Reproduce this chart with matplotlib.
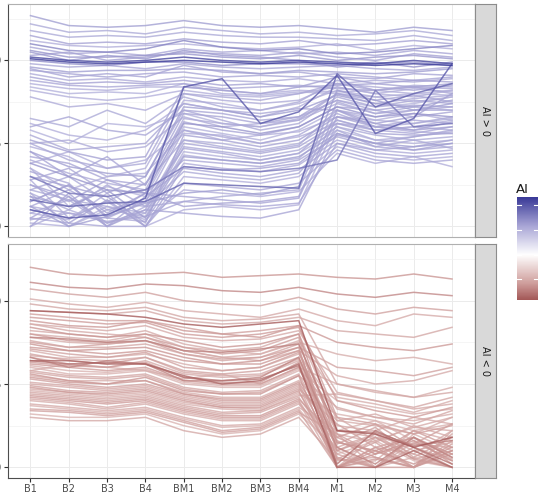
import numpy as np
import matplotlib.pyplot as plt
from matplotlib.colors import LinearSegmentedColormap, Normalize

# x categories
stages = ["B1", "B2", "B3", "B4", "BM1", "BM2", "BM3", "BM4", "M1", "M2", "M3", "M4"]

# AI > 0 panel: one AI value and one row of 12 values per line
top_ai = [0.62, 0.55, 0.60, 0.52, 0.58, 0.66, 1.10, 0.70, 0.56, 0.62,
          0.58, 0.54, 0.60, 0.57, 0.52, 0.64, 0.50, 0.75,
          0.55, 0.52, 0.58, 0.50,
          0.60, 0.56, 0.52, 0.62, 0.58, 0.54, 0.66, 0.50, 0.57, 0.60,
          0.53, 0.59, 0.55, 0.51, 0.62, 0.56, 0.54, 0.58, 0.52, 0.57,
          0.55, 0.60, 0.52, 0.58,
          1.00, 0.95, 0.85, 1.17,
          0.55, 0.60, 0.58, 0.52, 0.54, 0.56, 0.58, 0.52, 0.55, 0.57,
          0.53, 0.60, 0.55, 0.52, 0.58, 0.62, 0.54, 0.56, 0.52, 0.57]
top_rows = [
    [1.27, 1.21, 1.20, 1.21, 1.24, 1.21, 1.20, 1.21, 1.19, 1.17, 1.20, 1.18],
    [1.18, 1.14, 1.15, 1.14, 1.17, 1.15, 1.14, 1.14, 1.13, 1.12, 1.15, 1.12],
    [1.15, 1.10, 1.11, 1.10, 1.13, 1.11, 1.10, 1.12, 1.09, 1.10, 1.12, 1.10],
    [1.12, 1.09, 1.08, 1.09, 1.10, 1.08, 1.07, 1.08, 1.10, 1.06, 1.09, 1.07],
    [1.08, 1.04, 1.05, 1.03, 1.07, 1.05, 1.06, 1.04, 1.05, 1.03, 1.06, 1.04],
    [1.06, 1.02, 1.02, 1.03, 1.04, 1.02, 1.01, 1.03, 1.00, 1.02, 1.03, 1.01],
    [1.02, 1.00, 0.99, 1.00, 1.02, 1.00, 0.99, 1.00, 0.99, 0.98, 1.00, 0.98],
    [1.00, 0.98, 0.97, 0.99, 0.99, 0.97, 0.98, 0.98, 0.97, 0.99, 0.96, 0.99],
    [0.98, 0.96, 0.97, 0.95, 0.98, 0.96, 0.95, 0.96, 0.97, 0.95, 0.94, 0.96],
    [0.96, 0.93, 0.94, 0.94, 0.95, 0.94, 0.92, 0.94, 0.93, 0.92, 0.93, 0.95],
    [0.94, 0.92, 0.90, 0.92, 0.93, 0.90, 0.91, 0.90, 0.92, 0.90, 0.88, 0.90],
    [0.92, 0.88, 0.89, 0.87, 0.90, 0.88, 0.87, 0.89, 0.86, 0.88, 0.87, 0.89],
    [0.90, 0.86, 0.87, 0.86, 0.88, 0.85, 0.86, 0.84, 0.85, 0.86, 0.84, 0.86],
    [0.88, 0.85, 0.84, 0.85, 0.86, 0.83, 0.84, 0.85, 0.83, 0.82, 0.84, 0.83],
    [0.86, 0.83, 0.82, 0.84, 0.84, 0.82, 0.80, 0.82, 0.81, 0.82, 0.80, 0.82],
    [1.05, 1.00, 1.03, 1.01, 1.06, 1.03, 1.02, 1.00, 0.96, 0.98, 0.99, 0.97],
    [0.84, 0.80, 0.81, 0.80, 0.86, 0.80, 0.79, 0.81, 0.80, 0.78, 0.80, 0.79],
    [1.10, 1.06, 1.05, 1.07, 1.12, 1.08, 1.06, 1.07, 1.04, 1.05, 1.07, 1.09],
    [0.65, 0.60, 0.70, 0.62, 0.78, 0.72, 0.70, 0.75, 0.88, 0.82, 0.85, 0.84],
    [0.62, 0.55, 0.52, 0.58, 0.74, 0.70, 0.66, 0.72, 0.84, 0.80, 0.78, 0.82],
    [0.60, 0.66, 0.58, 0.55, 0.70, 0.68, 0.64, 0.66, 0.80, 0.76, 0.79, 0.75],
    [0.58, 0.50, 0.62, 0.60, 0.68, 0.62, 0.60, 0.65, 0.76, 0.72, 0.74, 0.78],
    [0.52, 0.45, 0.40, 0.42, 0.84, 0.82, 0.80, 0.84, 0.90, 0.86, 0.88, 0.87],
    [0.50, 0.40, 0.35, 0.38, 0.80, 0.78, 0.76, 0.80, 0.86, 0.82, 0.84, 0.80],
    [0.48, 0.42, 0.30, 0.35, 0.76, 0.74, 0.70, 0.74, 0.82, 0.78, 0.75, 0.78],
    [0.45, 0.36, 0.32, 0.30, 0.72, 0.70, 0.66, 0.70, 0.79, 0.74, 0.72, 0.76],
    [0.42, 0.38, 0.28, 0.25, 0.68, 0.66, 0.62, 0.66, 0.76, 0.70, 0.73, 0.72],
    [0.40, 0.32, 0.26, 0.22, 0.65, 0.62, 0.60, 0.64, 0.74, 0.68, 0.70, 0.70],
    [0.38, 0.30, 0.22, 0.20, 0.62, 0.60, 0.56, 0.60, 0.72, 0.66, 0.68, 0.66],
    [0.35, 0.12, 0.24, 0.18, 0.60, 0.56, 0.52, 0.58, 0.70, 0.64, 0.62, 0.65],
    [0.33, 0.26, 0.05, 0.15, 0.58, 0.54, 0.50, 0.55, 0.68, 0.60, 0.64, 0.62],
    [0.30, 0.24, 0.18, 0.02, 0.55, 0.52, 0.48, 0.52, 0.66, 0.62, 0.58, 0.60],
    [0.28, 0.05, 0.15, 0.12, 0.52, 0.50, 0.46, 0.50, 0.64, 0.58, 0.60, 0.58],
    [0.25, 0.18, 0.00, 0.10, 0.50, 0.47, 0.44, 0.48, 0.62, 0.56, 0.55, 0.56],
    [0.22, 0.16, 0.12, 0.08, 0.48, 0.45, 0.42, 0.46, 0.60, 0.55, 0.52, 0.54],
    [0.20, 0.00, 0.10, 0.06, 0.45, 0.42, 0.40, 0.44, 0.58, 0.52, 0.50, 0.52],
    [0.18, 0.12, 0.22, 0.05, 0.42, 0.40, 0.38, 0.42, 0.56, 0.50, 0.48, 0.50],
    [0.15, 0.25, 0.06, 0.20, 0.40, 0.38, 0.36, 0.40, 0.54, 0.48, 0.46, 0.48],
    [0.12, 0.08, 0.05, 0.03, 0.38, 0.35, 0.33, 0.37, 0.52, 0.46, 0.44, 0.46],
    [0.00, 0.20, 0.00, 0.18, 0.35, 0.32, 0.30, 0.34, 0.50, 0.44, 0.42, 0.44],
    [0.08, 0.04, 0.20, 0.00, 0.30, 0.28, 0.26, 0.30, 0.48, 0.42, 0.40, 0.42],
    [0.05, 0.02, 0.00, 0.00, 0.26, 0.24, 0.22, 0.26, 0.46, 0.40, 0.38, 0.40],
    [0.20, 0.10, 0.25, 0.12, 0.15, 0.18, 0.20, 0.22, 0.75, 0.68, 0.72, 0.70],
    [0.15, 0.25, 0.08, 0.20, 0.12, 0.14, 0.15, 0.18, 0.70, 0.62, 0.66, 0.80],
    [0.10, 0.05, 0.15, 0.00, 0.10, 0.12, 0.10, 0.13, 0.62, 0.58, 0.60, 0.64],
    [0.05, 0.18, 0.02, 0.10, 0.08, 0.06, 0.05, 0.10, 0.56, 0.50, 0.54, 0.58],
    [0.10, 0.05, 0.07, 0.17, 0.84, 0.89, 0.62, 0.69, 0.91, 0.56, 0.65, 0.98],
    [0.16, 0.12, 0.14, 0.15, 0.26, 0.25, 0.24, 0.23, 0.92, 0.72, 0.80, 0.86],
    [0.30, 0.20, 0.18, 0.22, 0.36, 0.34, 0.33, 0.35, 0.40, 0.82, 0.60, 0.62],
    [1.01, 0.99, 0.98, 0.99, 1.00, 0.99, 0.98, 0.99, 0.98, 0.97, 0.98, 0.97],
    [1.22, 1.17, 1.18, 1.16, 1.20, 1.18, 1.16, 1.17, 1.15, 1.16, 1.18, 1.15],
    [1.03, 1.05, 1.00, 1.02, 1.05, 1.04, 1.03, 1.05, 1.02, 1.00, 1.04, 1.02],
    [0.95, 0.90, 0.92, 0.90, 0.97, 0.93, 0.92, 0.93, 0.90, 0.89, 0.92, 0.91],
    [0.82, 0.78, 0.76, 0.78, 0.82, 0.79, 0.78, 0.80, 0.84, 0.80, 0.83, 0.81],
    [0.78, 0.72, 0.74, 0.70, 0.80, 0.76, 0.74, 0.76, 0.86, 0.84, 0.82, 0.85],
    [0.28, 0.35, 0.20, 0.30, 0.70, 0.64, 0.58, 0.62, 0.78, 0.72, 0.76, 0.74],
    [0.45, 0.30, 0.42, 0.25, 0.63, 0.58, 0.55, 0.60, 0.72, 0.70, 0.66, 0.69],
    [0.38, 0.45, 0.35, 0.40, 0.58, 0.52, 0.55, 0.57, 0.66, 0.64, 0.68, 0.64],
    [0.22, 0.30, 0.15, 0.26, 0.52, 0.48, 0.45, 0.49, 0.70, 0.60, 0.62, 0.66],
    [0.12, 0.22, 0.10, 0.15, 0.47, 0.44, 0.40, 0.44, 0.64, 0.58, 0.56, 0.60],
    [0.00, 0.10, 0.02, 0.08, 0.43, 0.40, 0.38, 0.41, 0.60, 0.52, 0.54, 0.57],
    [0.18, 0.02, 0.16, 0.00, 0.36, 0.34, 0.35, 0.38, 0.55, 0.50, 0.46, 0.50],
    [0.08, 0.16, 0.00, 0.12, 0.33, 0.30, 0.28, 0.32, 0.58, 0.48, 0.52, 0.47],
    [0.02, 0.00, 0.12, 0.04, 0.22, 0.20, 0.18, 0.21, 0.44, 0.38, 0.42, 0.36],
    [0.25, 0.15, 0.28, 0.20, 0.18, 0.16, 0.14, 0.17, 0.66, 0.60, 0.58, 0.63],
    [0.12, 0.00, 0.06, 0.14, 0.20, 0.22, 0.19, 0.24, 0.82, 0.76, 0.70, 0.74],
    [0.50, 0.52, 0.45, 0.48, 0.66, 0.60, 0.62, 0.64, 0.80, 0.74, 0.77, 0.79],
    [0.55, 0.46, 0.48, 0.50, 0.74, 0.70, 0.68, 0.71, 0.70, 0.66, 0.70, 0.72],
    [0.35, 0.22, 0.30, 0.32, 0.56, 0.55, 0.50, 0.54, 0.62, 0.60, 0.57, 0.56],
    [0.04, 0.08, 0.03, 0.06, 0.15, 0.13, 0.12, 0.14, 0.50, 0.46, 0.48, 0.52],
]

# AI < 0 panel
bot_ai = [-0.62, -0.68, -0.55, -0.50, -0.52, -0.60, -0.48, -0.55,
          -0.90, -0.56, -0.50, -0.62, -0.58, -0.52, -0.60, -0.48,
          -0.55, -0.50, -0.85, -0.58, -0.45, -0.52, -0.62, -0.48,
          -0.55, -0.50, -0.60, -0.45, -0.52, -0.58, -0.48, -0.50,
          -0.55, -0.45, -0.52, -0.48, -0.72, -0.78, -0.70,
          -0.52, -0.58, -0.50, -0.48, -0.62, -0.55, -0.50, -0.58, -0.45, -0.52,
          -0.60, -0.50, -0.55, -0.48, -0.52, -0.58, -0.50, -0.45, -0.55, -0.50]
bot_rows = [
    [1.20, 1.16, 1.15, 1.16, 1.17, 1.14, 1.15, 1.16, 1.14, 1.13, 1.16, 1.13],
    [1.11, 1.08, 1.07, 1.10, 1.09, 1.06, 1.05, 1.08, 1.04, 1.02, 1.05, 1.03],
    [1.07, 1.04, 1.02, 1.05, 1.00, 0.98, 0.97, 1.02, 0.95, 0.92, 0.96, 0.94],
    [1.01, 0.98, 0.96, 0.99, 0.94, 0.92, 0.90, 0.95, 0.88, 0.85, 0.92, 0.90],
    [0.94, 0.93, 0.92, 0.94, 0.88, 0.86, 0.87, 0.90, 0.82, 0.80, 0.78, 0.84],
    [0.88, 0.85, 0.84, 0.88, 0.82, 0.80, 0.78, 0.85, 0.75, 0.72, 0.70, 0.74],
    [0.80, 0.78, 0.76, 0.80, 0.72, 0.70, 0.68, 0.75, 0.68, 0.64, 0.66, 0.62],
    [0.75, 0.72, 0.74, 0.76, 0.68, 0.65, 0.66, 0.72, 0.60, 0.58, 0.55, 0.60],
    [0.94, 0.93, 0.92, 0.90, 0.86, 0.84, 0.86, 0.88, 0.22, 0.20, 0.12, 0.18],
    [0.92, 0.90, 0.88, 0.88, 0.84, 0.80, 0.82, 0.85, 0.30, 0.26, 0.20, 0.25],
    [0.86, 0.84, 0.82, 0.85, 0.78, 0.76, 0.77, 0.82, 0.45, 0.40, 0.35, 0.38],
    [0.84, 0.80, 0.78, 0.80, 0.76, 0.72, 0.74, 0.80, 0.15, 0.10, 0.18, 0.08],
    [0.80, 0.76, 0.75, 0.78, 0.72, 0.68, 0.70, 0.78, 0.00, 0.12, 0.00, 0.10],
    [0.76, 0.72, 0.72, 0.74, 0.68, 0.64, 0.66, 0.74, 0.20, 0.00, 0.15, 0.05],
    [0.72, 0.70, 0.68, 0.70, 0.64, 0.62, 0.62, 0.70, 0.10, 0.18, 0.05, 0.00],
    [0.70, 0.66, 0.66, 0.68, 0.62, 0.58, 0.60, 0.68, 0.35, 0.30, 0.28, 0.32],
    [0.68, 0.64, 0.62, 0.66, 0.58, 0.56, 0.58, 0.66, 0.05, 0.15, 0.00, 0.20],
    [0.66, 0.62, 0.60, 0.64, 0.56, 0.54, 0.55, 0.64, 0.25, 0.22, 0.30, 0.26],
    [0.64, 0.64, 0.62, 0.62, 0.55, 0.50, 0.52, 0.62, 0.00, 0.00, 0.10, 0.00],
    [0.62, 0.60, 0.58, 0.60, 0.52, 0.50, 0.50, 0.60, 0.18, 0.08, 0.22, 0.12],
    [0.60, 0.56, 0.56, 0.58, 0.50, 0.48, 0.48, 0.58, 0.40, 0.36, 0.32, 0.35],
    [0.58, 0.55, 0.54, 0.56, 0.48, 0.45, 0.46, 0.56, 0.12, 0.20, 0.10, 0.15],
    [0.56, 0.52, 0.50, 0.54, 0.46, 0.44, 0.44, 0.55, 0.00, 0.10, 0.02, 0.12],
    [0.55, 0.52, 0.52, 0.52, 0.45, 0.42, 0.42, 0.52, 0.28, 0.25, 0.20, 0.30],
    [0.53, 0.50, 0.48, 0.50, 0.44, 0.40, 0.40, 0.50, 0.08, 0.00, 0.12, 0.00],
    [0.50, 0.48, 0.46, 0.48, 0.42, 0.38, 0.38, 0.48, 0.20, 0.15, 0.25, 0.18],
    [0.48, 0.45, 0.44, 0.46, 0.40, 0.36, 0.36, 0.46, 0.00, 0.05, 0.00, 0.08],
    [0.46, 0.44, 0.42, 0.44, 0.38, 0.35, 0.34, 0.44, 0.32, 0.28, 0.22, 0.26],
    [0.44, 0.42, 0.40, 0.42, 0.36, 0.32, 0.33, 0.42, 0.10, 0.20, 0.05, 0.10],
    [0.42, 0.40, 0.38, 0.40, 0.34, 0.30, 0.30, 0.40, 0.05, 0.00, 0.18, 0.02],
    [0.40, 0.38, 0.35, 0.38, 0.32, 0.28, 0.28, 0.38, 0.15, 0.10, 0.00, 0.22],
    [0.38, 0.36, 0.34, 0.36, 0.30, 0.25, 0.26, 0.36, 0.22, 0.18, 0.14, 0.12],
    [0.35, 0.34, 0.32, 0.34, 0.28, 0.22, 0.24, 0.34, 0.00, 0.12, 0.08, 0.00],
    [0.32, 0.30, 0.30, 0.32, 0.25, 0.20, 0.22, 0.32, 0.12, 0.00, 0.20, 0.10],
    [0.30, 0.28, 0.28, 0.30, 0.22, 0.18, 0.20, 0.30, 0.04, 0.06, 0.00, 0.16],
    [0.58, 0.62, 0.60, 0.58, 0.53, 0.56, 0.50, 0.60, 0.50, 0.45, 0.42, 0.48],
    [0.78, 0.77, 0.75, 0.76, 0.70, 0.69, 0.71, 0.74, 0.22, 0.21, 0.13, 0.16],
    [0.64, 0.62, 0.63, 0.62, 0.54, 0.52, 0.53, 0.61, 0.02, 0.22, 0.12, 0.02],
    [0.66, 0.60, 0.64, 0.62, 0.52, 0.52, 0.54, 0.66, 0.12, 0.02, 0.18, 0.06],
    [0.98, 0.95, 0.94, 0.96, 0.90, 0.88, 0.89, 0.92, 0.50, 0.46, 0.42, 0.45],
    [0.90, 0.88, 0.86, 0.87, 0.80, 0.78, 0.80, 0.84, 0.40, 0.34, 0.30, 0.36],
    [0.82, 0.80, 0.78, 0.82, 0.74, 0.70, 0.72, 0.80, 0.28, 0.32, 0.24, 0.30],
    [0.78, 0.75, 0.74, 0.76, 0.70, 0.66, 0.68, 0.76, 0.42, 0.38, 0.33, 0.40],
    [0.74, 0.70, 0.71, 0.72, 0.66, 0.62, 0.64, 0.72, 0.00, 0.08, 0.16, 0.04],
    [0.71, 0.68, 0.66, 0.69, 0.60, 0.58, 0.60, 0.69, 0.14, 0.24, 0.06, 0.18],
    [0.67, 0.65, 0.64, 0.66, 0.57, 0.55, 0.56, 0.65, 0.30, 0.16, 0.24, 0.22],
    [0.63, 0.61, 0.60, 0.63, 0.54, 0.51, 0.51, 0.63, 0.06, 0.00, 0.00, 0.14],
    [0.61, 0.58, 0.57, 0.59, 0.51, 0.49, 0.49, 0.59, 0.22, 0.28, 0.16, 0.08],
    [0.57, 0.54, 0.53, 0.55, 0.47, 0.44, 0.45, 0.55, 0.36, 0.30, 0.26, 0.34],
    [0.54, 0.51, 0.50, 0.52, 0.44, 0.41, 0.41, 0.51, 0.16, 0.06, 0.00, 0.10],
    [0.51, 0.49, 0.47, 0.49, 0.43, 0.39, 0.39, 0.49, 0.00, 0.18, 0.08, 0.22],
    [0.49, 0.46, 0.45, 0.47, 0.41, 0.37, 0.37, 0.47, 0.26, 0.12, 0.18, 0.06],
    [0.47, 0.45, 0.43, 0.45, 0.39, 0.36, 0.35, 0.45, 0.10, 0.00, 0.06, 0.00],
    [0.45, 0.43, 0.41, 0.43, 0.37, 0.33, 0.34, 0.43, 0.44, 0.40, 0.36, 0.42],
    [0.43, 0.41, 0.39, 0.41, 0.35, 0.31, 0.31, 0.41, 0.18, 0.26, 0.12, 0.04],
    [0.41, 0.39, 0.36, 0.39, 0.33, 0.29, 0.29, 0.39, 0.00, 0.04, 0.22, 0.16],
    [0.37, 0.35, 0.33, 0.35, 0.29, 0.24, 0.25, 0.35, 0.08, 0.16, 0.04, 0.00],
    [0.34, 0.33, 0.31, 0.33, 0.27, 0.21, 0.23, 0.33, 0.20, 0.08, 0.14, 0.26],
    [0.86, 0.82, 0.80, 0.78, 0.70, 0.66, 0.64, 0.70, 0.55, 0.50, 0.52, 0.58],
]

ai_min, ai_max = -0.92, 1.17
cbar_ticks = [-0.5, 0.0, 0.5, 1.0]

# ggplot gradient2 style: muted red -> white -> muted blue, centred at 0
cmap = LinearSegmentedColormap.from_list("ai", ["#832424", "#CF9E9C", "#FFFFFF", "#A9A6D6", "#3A3A98"])
lim = max(abs(ai_min), abs(ai_max))
norm = Normalize(-lim, lim)

W, H = 542, 496
fig = plt.figure(figsize=(W / 100, H / 100), dpi=100)


def box(x0, y0, x1, y1):
    # pixel box (top-left origin) -> figure fraction
    return [x0 / W, 1 - y1 / H, (x1 - x0) / W, (y1 - y0) / H]


ax_top = fig.add_axes(box(7.5, 4, 475, 237))
ax_bot = fig.add_axes(box(7.5, 244, 475, 478))
x = np.arange(len(stages))

for ax, ai, rows, label in [(ax_top, top_ai, top_rows, "AI > 0"), (ax_bot, bot_ai, bot_rows, "AI < 0")]:
    order = np.argsort(np.abs(ai), kind="stable")
    for i in order:
        ax.plot(x, rows[i], color=cmap(norm(ai[i])), lw=1.1, alpha=0.8, solid_joinstyle="miter")
    ax.set_xlim(-0.6, len(stages) - 0.4)
    ax.set_ylim(-0.064, 1.34)
    ax.set_yticks([0, 0.5, 1.0])
    ax.set_yticklabels(["0.0", "0.5", "1.0"])
    ax.set_yticks([0.25, 0.75, 1.25], minor=True)
    ax.set_xticks(x)
    ax.grid(True, which="major", color="#EBEBEB", lw=0.7)
    ax.grid(True, which="minor", axis="y", color="#F2F2F2", lw=0.5)
    ax.set_axisbelow(True)
    ax.tick_params(axis="y", which="minor", length=0)
    ax.tick_params(axis="both", which="major", length=3, width=0.8, color="#333333",
                   labelsize=7, labelcolor="#4D4D4D", pad=1)
    ax.spines["top"].set_color("#B0B0B0")
    ax.spines["left"].set_color("#4D4D4D")
    ax.spines["right"].set_color("#333333")
    ax.spines["bottom"].set_color("#B0B0B0")
    for s in ax.spines.values():
        s.set_linewidth(0.8)

    # facet strip on the right
    y0 = ax.get_position().y0
    strip = fig.add_axes([475 / W, y0, 21 / W, ax.get_position().height])
    strip.set_facecolor("#D9D9D9")
    strip.set_xticks([])
    strip.set_yticks([])
    for s in strip.spines.values():
        s.set_color("#8C8C8C")
        s.set_linewidth(0.8)
    strip.text(0.5, 0.5, label, rotation=270, ha="center", va="center",
               fontsize=7, color="#1A1A1A", transform=strip.transAxes)

ax_top.tick_params(axis="x", labelbottom=False, length=0)
ax_bot.set_xticklabels(stages)
ax_bot.spines["bottom"].set_color("#4D4D4D")

# colour bar legend
cax = fig.add_axes(box(517, 197, 538, 300))
vals = np.linspace(ai_min, ai_max, 256)
cax.imshow(vals[::-1, None], aspect="auto", cmap=cmap, norm=norm,
           extent=[0, 1, ai_min, ai_max])
for t in cbar_ticks:
    cax.plot([0, 0.2], [t, t], color="white", lw=0.8)
    cax.plot([0.8, 1], [t, t], color="white", lw=0.8)
cax.set_xlim(0, 1)
cax.set_ylim(ai_min, ai_max)
cax.set_xticks([])
cax.yaxis.tick_right()
cax.set_yticks(cbar_ticks)
cax.set_yticklabels(["-0.5", "0.0", "0.5", "1.0"])
cax.tick_params(axis="y", length=0, pad=8, labelsize=7, labelcolor="#4D4D4D")
for s in cax.spines.values():
    s.set_visible(False)
fig.text(516 / W, 1 - 193 / H, "AI", fontsize=9.5, color="#1A1A1A", ha="left", va="baseline")

fig.savefig("out.png", dpi=100)
